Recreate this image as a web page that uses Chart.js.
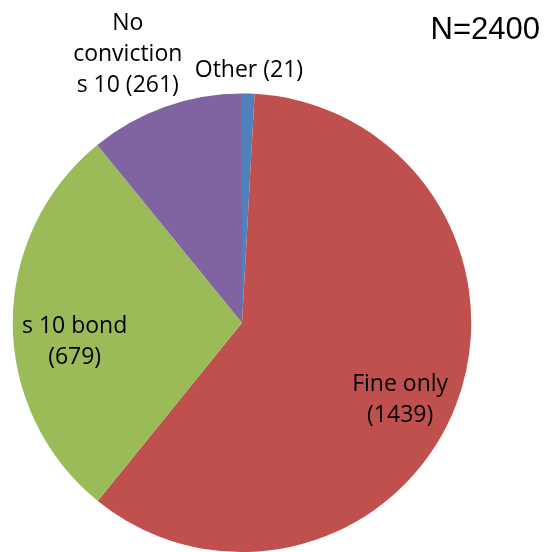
<!DOCTYPE html>
<html>
<head>
<meta charset="utf-8">
<script src="https://cdn.jsdelivr.net/npm/chart.js@4/dist/chart.umd.min.js"></script>
<style>
  html, body { margin: 0; padding: 0; background: #fff; }
  #wrap { position: relative; width: 546px; height: 552px; }
</style>
</head>
<body>
<div id="wrap"><canvas id="pieChart"></canvas></div>
<script>
// Data
const categories = ['Other', 'Fine only', 's 10 bond', 'No conviction s 10'];
const counts = [21, 1439, 679, 261];
const labelTexts = ['Other (21)', 'Fine only\n(1439)', 's 10 bond\n(679)', 'No\nconviction\ns 10 (261)'];
const sliceColors = ['#4F81BD', '#C0504D', '#9BBB59', '#8064A2'];
const totalText = 'N=2400';

// Label placement: fraction of radius along the slice mid angle, plus a small nudge
const labelRadius = [1.10, 0.73, 0.73, 1.24];
const labelNudge = [[0, 0], [2, 17], [0, 19], [-19, 0]];

const sliceLabels = {
    id: 'sliceLabels',
    afterDatasetsDraw(chart) {
        const ctx = chart.ctx;
        const meta = chart.getDatasetMeta(0);
        ctx.save();
        ctx.fillStyle = '#000';
        ctx.font = '23px "Open Sans", "Noto Sans", sans-serif';
        ctx.textAlign = 'center';
        ctx.textBaseline = 'middle';
        const lineH = 31;
        meta.data.forEach(function(arc, i) {
            const p = arc.getProps(['x', 'y', 'startAngle', 'endAngle', 'outerRadius'], true);
            const mid = (p.startAngle + p.endAngle) / 2;
            const d = p.outerRadius * labelRadius[i];
            const cx = p.x + Math.cos(mid) * d + labelNudge[i][0];
            const cy = p.y + Math.sin(mid) * d + labelNudge[i][1];
            const lines = labelTexts[i].split('\n');
            const top = cy - (lines.length - 1) * lineH / 2;
            lines.forEach(function(line, k) {
                ctx.fillText(line, cx, top + k * lineH);
            });
        });
        // total count in the corner
        ctx.font = '31px "Liberation Sans", Arial, sans-serif';
        ctx.textAlign = 'right';
        ctx.textBaseline = 'alphabetic';
        ctx.fillText(totalText, 540, 39);
        ctx.restore();
    }
};

new Chart(document.getElementById('pieChart').getContext('2d'), {
    type: 'pie',
    data: {
        labels: categories,
        datasets: [{
            data: counts,
            backgroundColor: sliceColors,
            borderWidth: 0
        }]
    },
    options: {
        responsive: true,
        maintainAspectRatio: false,
        animation: false,
        events: [],
        layout: {
            padding: { left: 12.5, right: 74.5, top: 93.5, bottom: 0 }
        },
        plugins: {
            legend: { display: false },
            tooltip: { enabled: false },
            title: { display: false }
        }
    },
    plugins: [sliceLabels]
});
</script>
</body>
</html>
